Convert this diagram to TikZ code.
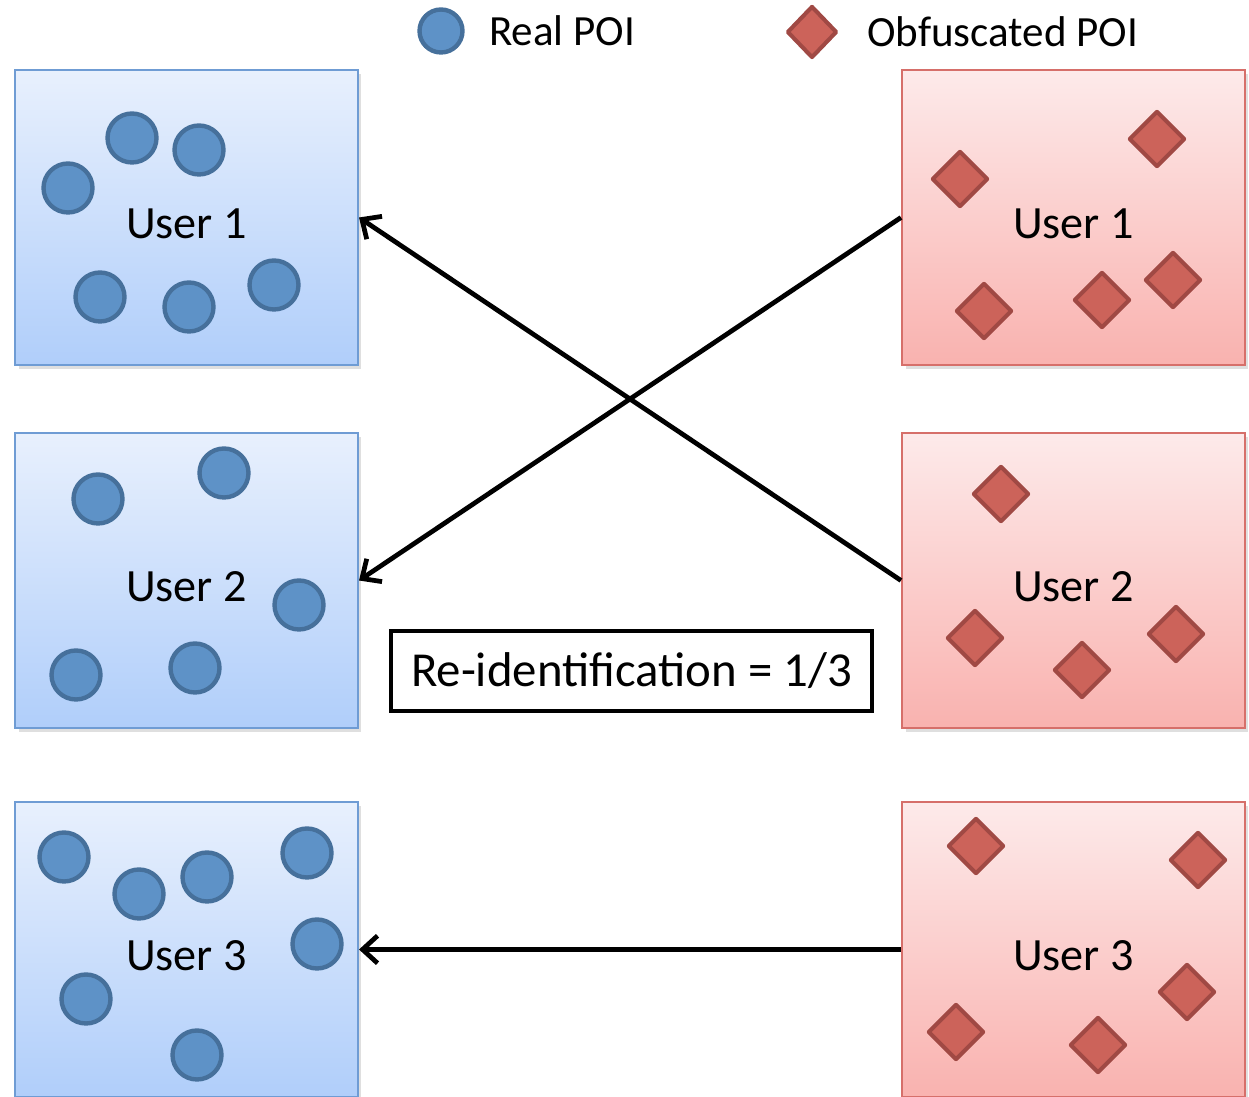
\documentclass[tikz,border=0pt]{standalone}
\usepackage{fontspec}
\setmainfont{Carlito}
\usepackage{tikz}
\usetikzlibrary{calc,positioning,shapes.geometric,arrows.meta,shadows}

\definecolor{poiblue}{HTML}{5E92C7}
\definecolor{poiblueline}{HTML}{46709B}
\definecolor{poired}{HTML}{CC635A}
\definecolor{poiredline}{HTML}{A04944}
\definecolor{boxblueline}{HTML}{6F9CD4}
\definecolor{boxbluetop}{HTML}{E8F0FD}
\definecolor{boxbluebot}{HTML}{B0CEFA}
\definecolor{boxredline}{HTML}{D66F6A}
\definecolor{boxredtop}{HTML}{FDEAEA}
\definecolor{boxredbot}{HTML}{F9B2AF}

\tikzset{
    userbox/.style={draw,line width=1.2pt,inner sep=0pt,
                    minimum width=6.86cm,minimum height=5.9cm,
                    text height=23.5pt,text depth=0pt,
                    font=\fontsize{26.3}{30}\selectfont,
                    drop shadow={opacity=0.25,shadow xshift=2pt,shadow yshift=-2.5pt}},
    realbox/.style={userbox,draw=boxblueline,top color=boxbluetop,bottom color=boxbluebot},
    fakebox/.style={userbox,draw=boxredline,top color=boxredtop,bottom color=boxredbot},
    realpoi/.style={circle,draw=poiblueline,fill=poiblue,line width=2.5pt,
                    inner sep=0pt,minimum size=0.98cm},
    fakepoi/.style={diamond,draw=poiredline,fill=poired,line width=2.3pt,line join=round,
                    inner sep=0pt,minimum width=1.12cm,minimum height=1.12cm},
    conn/.style={line width=2.7pt,-{Straight Barb[length=0.3cm,width=0.55cm,line width=2.7pt]}},
    legendtext/.style={inner sep=0pt,font=\fontsize{24.5}{28}\selectfont}
}

\begin{document}
\begin{tikzpicture}[x=0.02cm,y=-0.02cm]
    \useasboundingbox (0,0) rectangle (1249,1097);

    % legend
    \node[realpoi,minimum size=0.86cm] at (441,31) (lgreal) {};
    \node[legendtext,right=0.48cm of lgreal] (lgrealtext) {Real POI};
    \node[fakepoi,minimum width=1.0cm,minimum height=1.04cm] at (812,32) (lgfake) {};
    \node[legendtext,right=0.56cm of lgfake] (lgfaketext) {Obfuscated POI};

    % users, real side
    \node[realbox] at (186.5,217.5) (real1) {User 1};
    \node[realbox] at (186.5,580.5) (real2) {User 2};
    \node[realbox] at (186.5,949.5) (real3) {User 3};

    % users, obfuscated side
    \node[fakebox] at (1073.5,217.5) (fake1) {User 1};
    \node[fakebox] at (1073.5,580.5) (fake2) {User 2};
    \node[fakebox] at (1073.5,949.5) (fake3) {User 3};

    \foreach \x/\y [count=\i] in {132/138,199/150,68/188,100/297,189/307,274/285}
        \node[realpoi] at (\x,\y) (ra\i) {};
    \foreach \x/\y [count=\i] in {98/499,224/473,299/605,76/675,195/668}
        \node[realpoi] at (\x,\y) (rb\i) {};
    \foreach \x/\y [count=\i] in {64/857,139/894,207/877,307/853,317/944,86/999,197/1055}
        \node[realpoi] at (\x,\y) (rc\i) {};

    \foreach \x/\y [count=\i] in {960/179,1157/139,984/311,1102/300,1173/280}
        \node[fakepoi] at (\x,\y) (fa\i) {};
    \foreach \x/\y [count=\i] in {1001/494,975/638,1082/670,1176/634}
        \node[fakepoi] at (\x,\y) (fb\i) {};
    \foreach \x/\y [count=\i] in {976/846,1198/860,1187/992,956/1032,1098/1045}
        \node[fakepoi] at (\x,\y) (fc\i) {};

    \draw[conn] (fake1.west) -- (real2.east);
    \draw[conn] (fake2.west) -- (real1.east);
    \draw[conn] (fake3.west) -- (real3.east);

    \node[draw,line width=2.3pt,fill=white,inner sep=0pt,minimum width=9.62cm,minimum height=1.6cm,
          font=\fontsize{27.8}{32}\selectfont] at (631.5,671) (score) {Re-identification = 1/3};
\end{tikzpicture}
\end{document}
